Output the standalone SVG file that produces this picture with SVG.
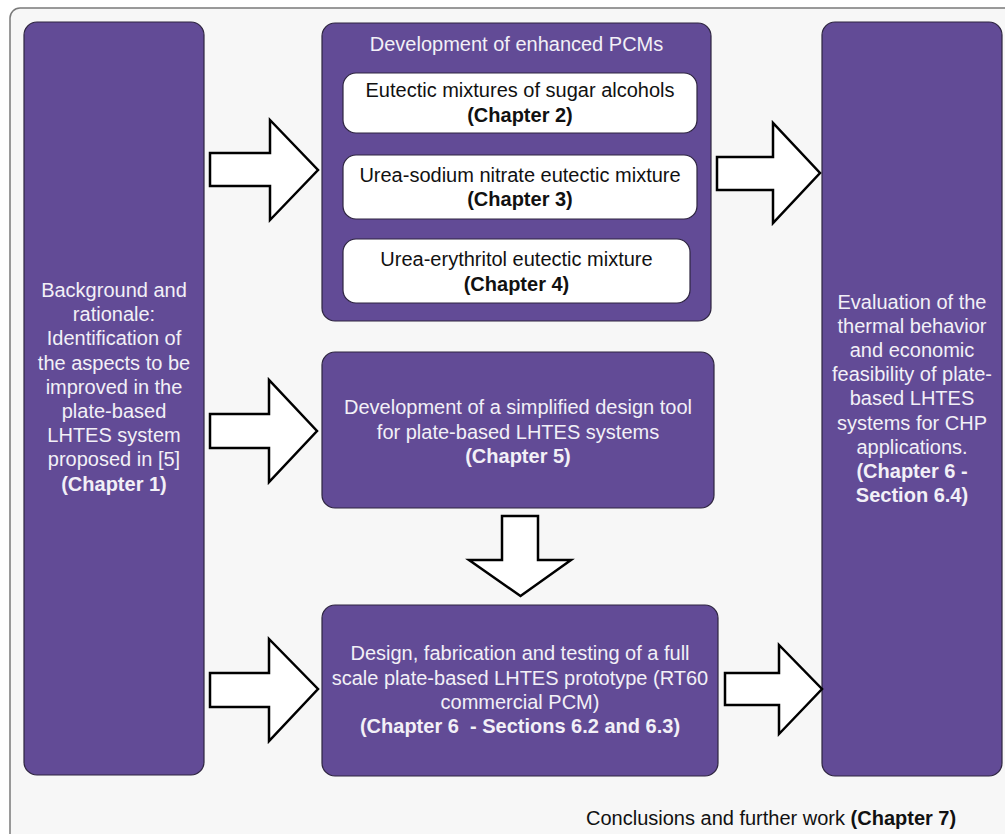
<svg xmlns="http://www.w3.org/2000/svg" width="1005" height="834" viewBox="0 0 1005 834">
<style>
.frame{fill:#f7f7f7;stroke:#7a7a7a;stroke-width:1.5}
.box{fill:#624b96;stroke:#2e2540;stroke-width:1.2}
.sub{fill:#ffffff;stroke:#2e2540;stroke-width:1.2}
.arr{fill:#ffffff;stroke:#000000;stroke-width:2.5;stroke-linejoin:miter}
text{font-family:"Liberation Sans",Arial,Helvetica,sans-serif;font-size:20px;text-anchor:middle}
.w{fill:#f2f0f7}
.k{fill:#111111}
.b{font-weight:bold}
</style>
<rect class="frame" x="10" y="8" width="1010" height="840" rx="10"/>

<g id="node-background">
<rect class="box" x="24" y="22" width="180" height="753" rx="13"/>
<text class="w" x="114" y="297">Background and</text>
<text class="w" x="114" y="321.2">rationale:</text>
<text class="w" x="114" y="345.4">Identification of</text>
<text class="w" x="114" y="369.6">the aspects to be</text>
<text class="w" x="114" y="393.8">improved in the</text>
<text class="w" x="114" y="418">plate-based</text>
<text class="w" x="114" y="442.2">LHTES system</text>
<text class="w" x="114" y="466.4">proposed in [5]</text>
<text class="w b" x="114" y="490.6">(Chapter 1)</text>
</g>

<g id="node-pcms">
<rect class="box" x="322" y="23" width="389" height="298" rx="13"/>
<text class="w" x="516.5" y="51">Development of enhanced PCMs</text>
</g>

<g id="node-sugar">
<rect class="sub" x="343" y="73" width="354" height="60" rx="13"/>
<text class="k" x="520" y="97">Eutectic mixtures of sugar alcohols</text>
<text class="k b" x="520" y="122">(Chapter 2)</text>
</g>

<g id="node-urea-nitrate">
<rect class="sub" x="343" y="155" width="354" height="64" rx="13"/>
<text class="k" x="520" y="181.5">Urea-sodium nitrate eutectic mixture</text>
<text class="k b" x="520" y="205.5">(Chapter 3)</text>
</g>

<g id="node-urea-erythritol">
<rect class="sub" x="343" y="239" width="347" height="64" rx="13"/>
<text class="k" x="516.5" y="265.5">Urea-erythritol eutectic mixture</text>
<text class="k b" x="516.5" y="290.5">(Chapter 4)</text>
</g>

<g id="node-design-tool">
<rect class="box" x="322" y="352" width="392" height="156" rx="13"/>
<text class="w" x="518" y="414">Development of a simplified design tool</text>
<text class="w" x="518" y="438.5">for plate-based LHTES systems</text>
<text class="w b" x="518" y="463">(Chapter 5)</text>
</g>

<g id="node-prototype">
<rect class="box" x="322" y="605" width="396" height="171" rx="13"/>
<text class="w" x="520" y="660">Design, fabrication and testing of a full</text>
<text class="w" x="520" y="684.5">scale plate-based LHTES prototype (RT60</text>
<text class="w" x="520" y="709">commercial PCM)</text>
<text class="w b" x="520" y="733" xml:space="preserve">(Chapter 6  - Sections 6.2 and 6.3)</text>
</g>

<g id="node-evaluation">
<rect class="box" x="822" y="22" width="180" height="754" rx="13"/>
<text class="w" x="912" y="309">Evaluation of the</text>
<text class="w" x="912" y="333.1">thermal behavior</text>
<text class="w" x="912" y="357.2">and economic</text>
<text class="w" x="912" y="381.3">feasibility of plate-</text>
<text class="w" x="912" y="405.4">based LHTES</text>
<text class="w" x="912" y="429.5">systems for CHP</text>
<text class="w" x="912" y="453.6">applications.</text>
<text class="w b" x="912" y="477.7">(Chapter 6 -</text>
<text class="w b" x="912" y="501.8">Section 6.4)</text>
</g>

<g id="node-conclusions">
<text class="k" x="586" y="825" style="text-anchor:start">Conclusions and further work <tspan class="b">(Chapter 7)</tspan></text>
</g>

<g id="connectors">
<polygon class="arr" points="210,153 270,153 270,120 318,170 270,220 270,186 210,186"/>
<polygon class="arr" points="717,157 773,157 773,123 820,173 773,223 773,190 717,190"/>
<polygon class="arr" points="210,414 269,414 269,380 317,431 269,482 269,448 210,448"/>
<polygon class="arr" points="502,516 538,516 538,560 571,560 520.5,596 469,560 502,560"/>
<polygon class="arr" points="210,673 269,673 269,639 318,689 269,741 269,707 210,707"/>
<polygon class="arr" points="725,673 779,673 779,645 822,689 779,734 779,705 725,705"/>
</g>
</svg>
